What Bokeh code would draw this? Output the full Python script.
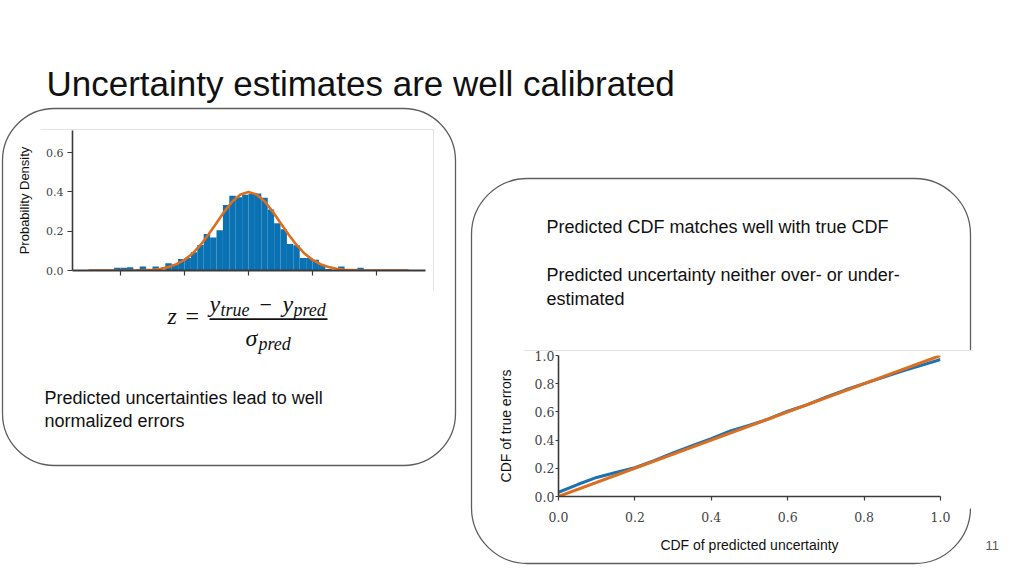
import numpy as np
from bokeh.plotting import figure
from bokeh.models import (Range1d, Label, BoxAnnotation, FixedTicker,
                          CustomJSTickFormatter, NumeralTickFormatter)
from bokeh.embed import file_html
from bokeh.resources import INLINE

# ---------------- data ----------------
slide_title = "Uncertainty estimates are well calibrated"
left_text = ["Predicted uncertainties lead to well", "normalized errors"]
right_text_1 = "Predicted CDF matches well with true CDF"
right_text_2 = ["Predicted uncertainty neither over- or under-", "estimated"]
page_number = "11"

hist_ylabel = "Probability Density"
hist_yticks = [0.0, 0.2, 0.4, 0.6]
hist_xticks = [-4, -2, 0, 2, 4]
bin_left = [-4.2, -4.0, -3.8, -3.6, -3.4, -3.2, -3.0, -2.8, -2.6, -2.4,
            -2.2, -2.0, -1.8, -1.6, -1.4, -1.2, -1.0, -0.8, -0.6, -0.4,
            -0.2, 0.0, 0.2, 0.4, 0.6, 0.8, 1.0, 1.2, 1.4, 1.6,
            1.8, 2.0, 2.2, 2.4, 2.6, 2.8, 3.0, 3.2, 3.4]
density = [0.014, 0.014, 0.017, 0.0, 0.02, 0.0, 0.02, 0.0, 0.037, 0.03,
           0.058, 0.064, 0.093, 0.13, 0.186, 0.168, 0.205, 0.333, 0.38, 0.372,
           0.385, 0.39, 0.392, 0.37, 0.31, 0.24, 0.21, 0.135, 0.128, 0.064,
           0.064, 0.055, 0.028, 0.008, 0.0, 0.02, 0.0, 0.0, 0.014]
bin_width = 0.2

curve_z = [-5.0, -4.5, -4.0, -3.5, -3.0, -2.75, -2.5, -2.25, -2.0, -1.75,
           -1.5, -1.25, -1.0, -0.75, -0.5, -0.25, 0.0, 0.25, 0.5, 0.75,
           1.0, 1.25, 1.5, 1.75, 2.0, 2.25, 2.5, 2.75, 3.0, 3.5,
           4.0, 4.5, 5.0]
curve_pdf = [0.0, 0.0, 0.0, 0.001, 0.004, 0.009, 0.018, 0.032, 0.054, 0.086,
             0.130, 0.183, 0.242, 0.301, 0.352, 0.387, 0.399, 0.387, 0.352, 0.301,
             0.242, 0.183, 0.130, 0.086, 0.054, 0.032, 0.018, 0.009, 0.004, 0.001,
             0.0, 0.0, 0.0]

cdf_xlabel = "CDF of predicted uncertainty"
cdf_ylabel = "CDF of true errors"
cdf_ticks = [0.0, 0.2, 0.4, 0.6, 0.8, 1.0]
pred_cdf = [0.0, 0.05, 0.1, 0.15, 0.2, 0.25, 0.3, 0.35, 0.4, 0.45,
            0.5, 0.55, 0.6, 0.65, 0.7, 0.75, 0.8, 0.85, 0.9, 0.95, 1.0]
true_cdf = [0.03, 0.085, 0.135, 0.17, 0.205, 0.255, 0.31, 0.36, 0.41, 0.465,
            0.505, 0.55, 0.605, 0.65, 0.705, 0.755, 0.80, 0.845, 0.89, 0.93, 0.972]
ideal_x = [0.0, 1.0]
ideal_y = [0.0, 1.0]

# ---------------- styles ----------------
BLUE = "#0a72b2"
CDF_BLUE = "#1f72b0"
ORANGE = "#dc6f1f"
SANS = "Liberation Sans"
SERIF_TICK = "DejaVu Serif"
MATH = "Liberation Serif"
BOX_COL = "#5e5e5e"


def label(p, x, y, text, size, font=SANS, color="#111111", style="normal",
          align="left"):
    p.add_layout(Label(x=x, y=y, text=text, text_font=font,
                       text_font_size=f"{size}px", text_color=color,
                       text_font_style=style, text_baseline="middle", text_align=align))


def box(p, left, right, top, bottom, fill=None, line=None, lw=1.0, radius=0):
    p.add_layout(BoxAnnotation(left=left, right=right, top=top, bottom=bottom,
                               fill_color=fill, fill_alpha=1.0 if fill else 0.0,
                               line_color=line, line_width=lw,
                               line_alpha=1.0 if line else 0.0,
                               border_radius=radius, level="underlay"))


def style_axes(p, font_px, tick_out, standoff):
    for ax in (p.xaxis[0], p.yaxis[0]):
        ax.axis_line_color = "#3a3a3a"
        ax.axis_line_width = 1.6
        ax.major_tick_line_color = "#3a3a3a"
        ax.major_tick_line_width = 1.2
        ax.major_tick_in = 0
        ax.major_tick_out = tick_out
        ax.minor_tick_line_color = None
        ax.major_label_text_font = SERIF_TICK
        ax.major_label_text_font_size = f"{font_px}px"
        ax.major_label_text_color = "#444444"
        ax.major_label_standoff = standoff
        ax.axis_label_text_font = SANS
        ax.axis_label_text_font_style = "normal"
        ax.axis_label_text_color = "#111111"


def transparent(p):
    p.outline_line_color = None
    p.grid.visible = False
    p.background_fill_color = None
    p.border_fill_color = None


# ---------------- slide background (pixel space, y down) ----------------
bg = figure(width=1024, height=576, output_backend="svg", toolbar_location=None,
            x_range=Range1d(0, 1024), y_range=Range1d(576, 0),
            x_axis_type=None, y_axis_type=None, min_border=0, title=None)
bg.outline_line_color = None
bg.grid.visible = False

label(bg, 46, 83, slide_title, 35)

# left rounded panel
box(bg, 2, 455, 108, 465, line=BOX_COL, lw=1.3, radius=52)
box(bg, 40, 433, 128.5, 129.5, fill="#e2e2e2")
box(bg, 432.5, 433.5, 129, 290, fill="#e2e2e2")

# formula z = (y_true - y_pred) / sigma_pred
label(bg, 167, 315, "z", 24, font=MATH, style="italic")
label(bg, 185, 315, "=", 24, font=MATH)
label(bg, 209, 303, "y", 24, font=MATH, style="italic")
label(bg, 220, 309, "true", 18, font=MATH, style="italic")
label(bg, 259, 304, "\u2212", 22, font=MATH)
label(bg, 282, 303, "y", 24, font=MATH, style="italic")
label(bg, 293, 309, "pred", 18, font=MATH, style="italic")
box(bg, 209, 327, 317.8, 319.4, fill="#111111")
label(bg, 245, 337, "\u03c3", 24, font=MATH, style="italic")
label(bg, 258, 343, "pred", 18, font=MATH, style="italic")

label(bg, 44, 397, left_text[0], 18)
label(bg, 44, 420, left_text[1], 18)

# right rounded panel
box(bg, 471, 970, 178, 563, line=BOX_COL, lw=1.3, radius=56)
box(bg, 520, 975, 350, 508, fill="#ffffff")
box(bg, 524, 972, 349.5, 350.5, fill="#e2e2e2")

label(bg, 546, 226, right_text_1, 18)
label(bg, 546, 274, right_text_2[0], 18)
label(bg, 546, 298, right_text_2[1], 18)
label(bg, 985, 545, page_number, 13, color="#595959")

# ---------------- histogram (overlaid) ----------------
hist = figure(width=425, height=170, output_backend="svg", toolbar_location=None,
              x_range=Range1d(-5.5, 5.53), y_range=Range1d(0, 0.712), title=None,
              min_border_left=62, min_border_right=10, min_border_top=10,
              min_border_bottom=20,
              styles={"position": "absolute", "left": "10px", "top": "120px"})
transparent(hist)
bl = np.array(bin_left)
hist.quad(left=bl, right=bl + bin_width, bottom=0, top=density,
          fill_color=BLUE, line_color=None)
hist.line(curve_z, curve_pdf, line_color=ORANGE, line_width=2.6)

style_axes(hist, 11, 5, 4)
hist.xaxis.axis_line_width = 2
hist.yaxis.ticker = FixedTicker(ticks=hist_yticks, minor_ticks=[])
hist.yaxis.formatter = NumeralTickFormatter(format="0.0")
hist.xaxis.ticker = FixedTicker(ticks=hist_xticks, minor_ticks=[])
hist.xaxis.formatter = CustomJSTickFormatter(code="return ''")
hist.yaxis.axis_label = hist_ylabel
hist.yaxis.axis_label_text_font_size = "13px"
hist.yaxis.axis_label_standoff = 11

# ---------------- CDF plot (overlaid) ----------------
cdf = figure(width=466, height=215, output_backend="svg", toolbar_location=None,
             x_range=Range1d(0, 1), y_range=Range1d(0, 1.0), title=None,
             min_border_left=64, min_border_right=20, min_border_top=10,
             min_border_bottom=64,
             styles={"position": "absolute", "left": "494px", "top": "345px"})
transparent(cdf)
cdf.line(pred_cdf, true_cdf, line_color=CDF_BLUE, line_width=3)
cdf.line(ideal_x, ideal_y, line_color=ORANGE, line_width=3)

style_axes(cdf, 12.5, 3, 1)
cdf.xaxis.major_label_standoff = 11
cdf.xaxis.major_tick_out = 4
cdf.xaxis.ticker = FixedTicker(ticks=cdf_ticks, minor_ticks=[])
cdf.yaxis.ticker = FixedTicker(ticks=cdf_ticks, minor_ticks=[])
cdf.xaxis.formatter = NumeralTickFormatter(format="0.0")
cdf.yaxis.formatter = NumeralTickFormatter(format="0.0")
cdf.xaxis.axis_label = cdf_xlabel
cdf.yaxis.axis_label = cdf_ylabel
cdf.xaxis.axis_label_text_font_size = "14px"
cdf.yaxis.axis_label_text_font_size = "14px"
cdf.xaxis.axis_label_standoff = 12
cdf.yaxis.axis_label_standoff = 18

open("out.html", "w").write(file_html([bg, hist, cdf], INLINE))
